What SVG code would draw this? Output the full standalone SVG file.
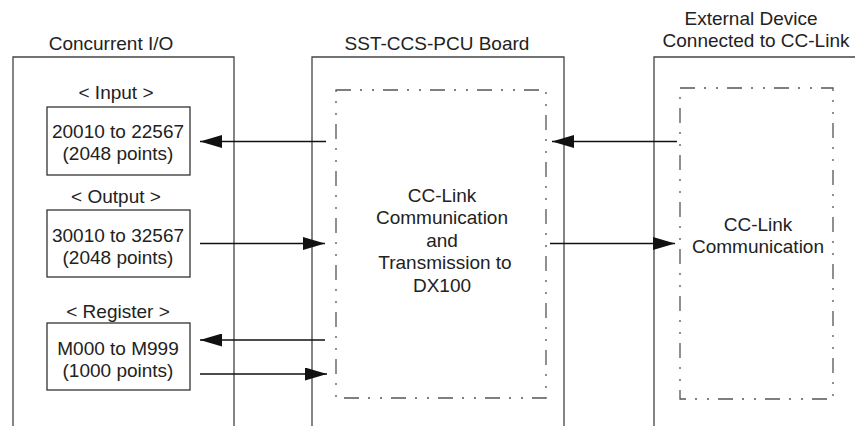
<svg xmlns="http://www.w3.org/2000/svg" width="855" height="427" viewBox="0 0 855 427">
<defs>
<style>
text{font-family:"Liberation Sans",Arial,sans-serif;font-size:19px;fill:#222;text-anchor:middle}
.panel{fill:none;stroke:#444;stroke-width:1.3}
.box{fill:#fff;stroke:#333;stroke-width:1.3}
.dd{fill:none;stroke:#555;stroke-width:1.3;stroke-dasharray:15 9 2 10 2 9}
.conn{fill:none;stroke:#111;stroke-width:1.3}
</style>
<marker id="ah" viewBox="0 0 22 13" refX="22" refY="6.5" markerWidth="22" markerHeight="13" markerUnits="userSpaceOnUse" orient="auto">
<path d="M0,0 L22,6.5 L0,13 Z" fill="#111"/>
</marker>
</defs>
<rect width="855" height="427" fill="#fff"/>

<g id="concurrent-io">
<path class="panel" d="M13,426 V57 H234 V426"/>
<text x="111" y="50">Concurrent I/O</text>
</g>
<g id="sst-board">
<path class="panel" d="M312,426 V57 H564 V426"/>
<text x="437" y="50">SST-CCS-PCU Board</text>
</g>
<g id="external-device">
<path class="panel" d="M654,426 V57 H860"/>
<text x="751" y="25">External Device</text>
<text x="756" y="47">Connected to CC-Link</text>
</g>

<g id="input">
<text x="116" y="99">&lt; Input &gt;</text>
<rect class="box" x="47" y="107" width="143" height="68"/>
<text x="118" y="138">20010 to 22567</text>
<text x="118" y="160">(2048 points)</text>
</g>
<g id="output">
<text x="116" y="203">&lt; Output &gt;</text>
<rect class="box" x="47" y="210" width="143" height="67"/>
<text x="118" y="242">30010 to 32567</text>
<text x="118" y="264">(2048 points)</text>
</g>
<g id="register">
<text x="118" y="318">&lt; Register &gt;</text>
<rect class="box" x="47" y="323" width="143" height="67"/>
<text x="118" y="355">M000 to M999</text>
<text x="118" y="377">(1000 points)</text>
</g>

<g id="cc-link-transmission">
<path class="dd" d="M336,90 H546 V398 H336 Z"/>
<text x="442" y="202">CC-Link</text>
<text x="442" y="224">Communication</text>
<text x="442" y="247">and</text>
<text x="445" y="269">Transmission to</text>
<text x="442" y="292">DX100</text>
</g>
<g id="cc-link-communication">
<path class="dd" d="M680,88 H833 V399 H680 Z"/>
<text x="758" y="231">CC-Link</text>
<text x="758" y="253">Communication</text>
</g>

<g id="connectors">
<line class="conn" x1="326" y1="141.5" x2="200" y2="141.5" marker-end="url(#ah)"/>
<line class="conn" x1="677" y1="141.5" x2="552" y2="141.5" marker-end="url(#ah)"/>
<line class="conn" x1="200" y1="243.5" x2="325" y2="243.5" marker-end="url(#ah)"/>
<line class="conn" x1="550" y1="243.5" x2="675" y2="243.5" marker-end="url(#ah)"/>
<line class="conn" x1="325" y1="340" x2="200" y2="340" marker-end="url(#ah)"/>
<line class="conn" x1="200" y1="374" x2="327" y2="374" marker-end="url(#ah)"/>
</g>
</svg>
